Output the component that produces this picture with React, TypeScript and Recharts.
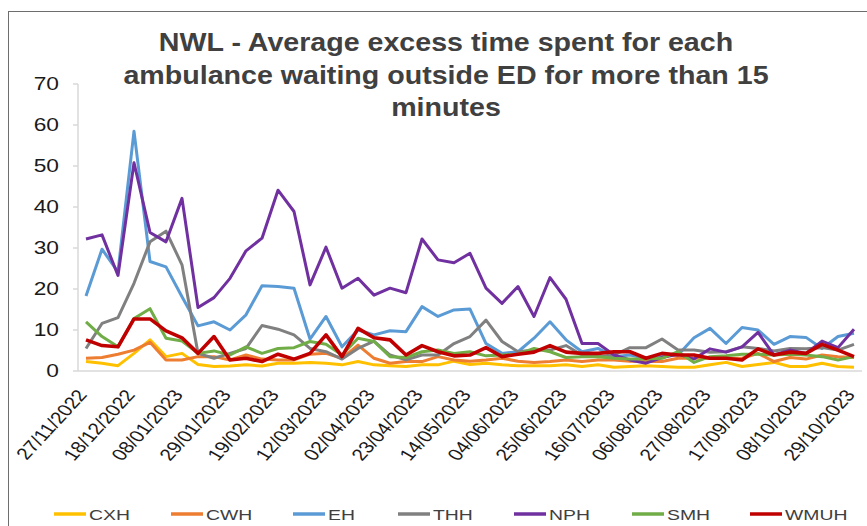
import React from 'react';
import { LineChart, Line, XAxis, YAxis } from 'recharts';

const WEEKS = ['27/11/2022','04/12/2022','11/12/2022','18/12/2022','25/12/2022','01/01/2023','08/01/2023','15/01/2023','22/01/2023','29/01/2023','05/02/2023','12/02/2023','19/02/2023','26/02/2023','05/03/2023','12/03/2023','19/03/2023','26/03/2023','02/04/2023','09/04/2023','16/04/2023','23/04/2023','30/04/2023','07/05/2023','14/05/2023','21/05/2023','28/05/2023','04/06/2023','11/06/2023','18/06/2023','25/06/2023','02/07/2023','09/07/2023','16/07/2023','23/07/2023','30/07/2023','06/08/2023','13/08/2023','20/08/2023','27/08/2023','03/09/2023','10/09/2023','17/09/2023','24/09/2023','01/10/2023','08/10/2023','15/10/2023','22/10/2023','29/10/2023'];

const CXH = [2.3,1.9,1.3,4.3,7.6,3.5,4.3,1.6, 1.1,1.2,1.5,1.2,1.9,1.9,2.1,1.9, 1.5,2.3,1.5,1.3,1.1,1.5,1.5,2.4, 1.6,1.9,1.5,1.3,1.3,1.3,1.5,1.1, 1.5,0.9,1.1,1.3,1.1,0.9,0.9,1.5, 2.1,1.1,1.6,2.1,1.1,1.1,1.9,1.1,0.9];
const CWH = [3.1,3.3,4.1,5.1,7.0,2.7,2.7,3.5, 3.5,2.7,3.9,2.9,2.7,2.7,4.1,4.3, 3.1,6.3,3.1,1.9,2.3,2.3,3.5,2.7, 2.4,2.7,3.1,2.4,2.1,2.3,2.7,2.3, 2.7,2.7,2.4,2.3,2.3,3.1,3.1,3.1, 3.1,3.1,4.3,2.3,3.3,2.9,3.9,3.5,3.3];
const EH = [18.3,29.7,24.2,58.5,26.7,25.4,18.1,11.0, 12.0,10.0,13.7,20.8,20.6,20.2,7.8,13.3, 5.9,10.0,8.8,9.8,9.6,15.7,13.3,14.9, 15.1,6.7,4.3,4.7,8.0,12.0,7.6,4.7, 5.5,3.5,3.9,3.1,3.9,3.9,8.1,10.4, 6.7,10.6,10.0,6.5,8.4,8.2,5.5,8.4,9.2];
const THH = [5.5,11.6,13.0,21.4,31.5,34.1,25.9,4.3, 3.1,4.3,5.5,11.1,10.2,8.8,5.5,4.7, 2.9,5.5,7.3,3.9,2.7,3.9,3.9,6.7, 8.4,12.4,7.2,4.7,5.1,5.1,6.2,3.9, 3.5,3.9,5.7,5.7,7.8,5.1,5.1,4.6, 4.7,5.9,5.5,4.9,5.5,5.4,5.7,5.1,6.5];
const NPH = [32.2,33.2,23.3,50.8,33.8,31.5,42.1,15.5, 17.9,22.6,29.3,32.4,44.1,38.9,21.0,30.2, 20.2,22.6,18.5,20.2,19.1,32.2,27.1,26.4, 28.7,20.2,16.5,20.6,13.3,22.8,17.5,6.7, 6.7,3.9,2.7,1.9,3.3,4.1,2.9,5.4, 4.6,5.9,9.4,3.9,5.1,4.3,7.3,5.7,10.2];
const SMH = [12.0,8.4,5.9,12.8,15.2,8.0,7.3,4.3, 4.9,3.9,5.9,4.3,5.5,5.7,7.2,6.5, 3.9,8.0,7.2,3.5,3.3,4.7,5.1,4.3, 4.7,3.7,3.9,4.1,5.5,4.7,3.3,3.5, 3.5,3.1,2.9,2.9,3.1,4.7,2.1,3.5, 3.7,4.1,4.1,3.9,4.1,3.9,3.5,2.7,3.5];
const WMUH = [7.6,6.2,5.9,12.7,12.7,9.8,8.1,4.3, 8.4,2.7,3.1,2.3,4.1,2.9,4.3,8.8, 3.5,10.4,8.1,7.6,3.9,6.2,4.7,3.7, 3.9,5.7,3.5,4.1,4.6,6.2,4.6,4.3, 4.3,4.7,4.7,3.1,4.3,3.9,3.9,3.1, 3.1,2.7,5.4,3.9,4.6,4.3,6.5,5.1,3.5];

const SERIES_NAMES = ['CXH', 'CWH', 'EH', 'THH', 'NPH', 'SMH', 'WMUH'];
const SERIES_VALUES = [CXH, CWH, EH, THH, NPH, SMH, WMUH];
const Y_TICKS = [0, 10, 20, 30, 40, 50, 60, 70];
const TITLE_LINES = [
  'NWL - Average excess time spent for each',
  'ambulance waiting outside ED for more than 15',
  'minutes',
];

// styles / layout
const COLORS = ['#FFC000', '#ED7D31', '#5B9BD5', '#808080', '#7030A0', '#70AD47', '#C00000'];
const WIDTHS = [3, 3, 3, 3, 3, 3, 3.6];
const FONT = '"Liberation Sans", Arial, sans-serif';
const LEGEND_X = [54, 171, 293, 398, 514, 632, 750];
const TITLE_BASELINES = [51, 83.5, 116];

const data = WEEKS.map((w, i) => {
  const row: any = { week: w };
  SERIES_NAMES.forEach((n, k) => { row[n] = SERIES_VALUES[k][i]; });
  return row;
});

const XTick = (props: any) => {
  const { x, y, payload } = props;
  return (
    <g transform={`translate(${x + 2},${y + 24}) scale(1.28,1) rotate(-54)`}>
      <text x={0} y={0} textAnchor="end" fontFamily={FONT} fontSize={16.5} fill="#1a1a1a">
        {payload.value}
      </text>
    </g>
  );
};

const YTick = (props: any) => {
  const { x, y, payload } = props;
  return (
    <g transform={`translate(${x - 12},${y + 6.3}) scale(1.3,1)`}>
      <text x={0} y={0} textAnchor="end" fontFamily={FONT} fontSize={17.5} fill="#1a1a1a">
        {payload.value}
      </text>
    </g>
  );
};

export default function App() {
  return (
    <div style={{ position: 'absolute', left: 0, top: 0, width: 867, height: 526, overflow: 'hidden', background: '#fff' }}>
      <div style={{ position: 'absolute', left: 8, top: 11, width: 900, height: 600, border: '1.5px solid #6e6e6e', boxSizing: 'border-box' }} />
      <div style={{ position: 'absolute', left: 0, top: 0 }}>
        <LineChart width={867} height={526} data={data} margin={{ top: 84, right: 5, bottom: 0, left: 18 }}>
          <XAxis
            dataKey="week"
            interval={2}
            tickLine={false}
            tickSize={0}
            tickMargin={0}
            height={155}
            padding={{ left: 8, right: 8 }}
            axisLine={{ stroke: '#d9d9d9', strokeWidth: 1.5 }}
            tick={<XTick />}
          />
          <YAxis
            width={60}
            domain={[0, 70]}
            ticks={Y_TICKS}
            interval={0}
            tickSize={5}
            tickMargin={2}
            tickLine={{ stroke: '#d9d9d9', strokeWidth: 1.5 }}
            axisLine={{ stroke: '#d9d9d9', strokeWidth: 1.5 }}
            tick={<YTick />}
          />
          {SERIES_NAMES.map((n, k) => (
            <Line
              key={n}
              type="linear"
              dataKey={n}
              stroke={COLORS[k]}
              strokeWidth={WIDTHS[k]}
              strokeLinejoin="round"
              dot={false}
              activeDot={false}
              isAnimationActive={false}
            />
          ))}
        </LineChart>
      </div>
      <svg width={867} height={526} style={{ position: 'absolute', left: 0, top: 0, pointerEvents: 'none' }}>
        {TITLE_LINES.map((t, i) => (
          <g key={i} transform={`translate(446,${TITLE_BASELINES[i]}) scale(1.1,1)`}>
            <text x={0} y={0} textAnchor="middle" fontFamily={FONT} fontWeight="bold" fontSize={26} fill="#404040">
              {t}
            </text>
          </g>
        ))}
        {SERIES_NAMES.map((n, k) => (
          <g key={n}>
            <line x1={LEGEND_X[k]} x2={LEGEND_X[k] + 32} y1={514} y2={514} stroke={COLORS[k]} strokeWidth={3.5} />
            <g transform={`translate(${LEGEND_X[k] + 35},519.5) scale(1.25,1)`}>
              <text x={0} y={0} fontFamily={FONT} fontSize={15.5} fill="#404040">{n}</text>
            </g>
          </g>
        ))}
      </svg>
    </div>
  );
}
